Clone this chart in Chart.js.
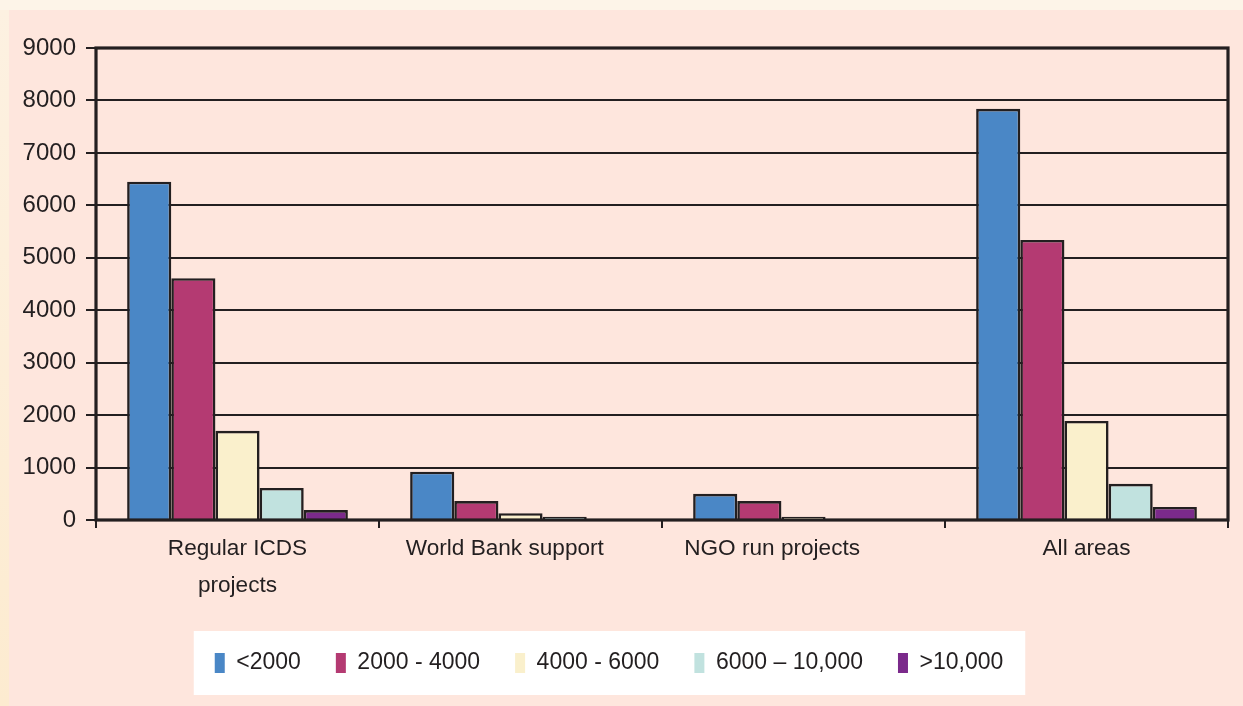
<!DOCTYPE html>
<html>
<head>
<meta charset="utf-8">
<title>Population size distribution by project type</title>
<script src="https://cdn.jsdelivr.net/npm/chart.js@4.4.1/dist/chart.umd.min.js"></script>
<style>
  html, body { margin: 0; padding: 0; }
  body {
    width: 1243px; height: 706px; overflow: hidden; position: relative;
    background: #fdf4e8;
  }
  #strip {
    position: absolute; left: 0; top: 10px; width: 9px; height: 696px;
    background: linear-gradient(#fdf1e1, #fdebd0);
  }
  #panel {
    position: absolute; left: 9px; top: 10px; width: 1234px; height: 696px;
    background: #fee6dd;
  }
  #wrap { position: absolute; left: 0; top: 0; width: 1243px; height: 706px; }
</style>
</head>
<body>
<div id="strip"></div>
<div id="panel"></div>
<div id="wrap"><canvas id="chart" width="1243" height="706"></canvas></div>
<script>
// Project categories along the x axis (trailing spaces keep the original label placement)
const categories = [["Regular ICDS", "projects"], "World Bank support     ", "NGO run projects          ", "All areas"];

// Population size groups (one series each)
const seriesNames = ["<2000", "2000 - 4000", "4000 - 6000", "6000 \u2013 10,000", ">10,000"];

// Values per category for each size group
const under2000   = [6450, 920, 500, 7840];
const from2000    = [4610, 360, 360, 5340];
const from4000    = [1700, 130, 60, 1890];
const from6000    = [610, 60, 0, 690];
const over10000   = [190, 0, 0, 250];

// Y axis tick values
const yTicks = [0, 1000, 2000, 3000, 4000, 5000, 6000, 7000, 8000, 9000];

const seriesValues = [under2000, from2000, from4000, from6000, over10000];
const seriesColors = ["#4a87c6", "#b43a72", "#faf0cc", "#c1e2df", "#7b2a8b"];

const ink = "#231f20";
const fontFamily = "'Liberation Sans', Arial, Helvetica, sans-serif";

// White card behind the legend, and a heavy frame round the plot area
const decorations = {
  id: "decorations",
  afterLayout(chart) {
    const lg = chart.legend;
    const dx = -5;
    const dy = 616.5 - lg.top;
    lg.left += dx; lg.right += dx;
    lg.top += dy; lg.bottom += dy;
  },
  beforeDraw(chart) {
    const lg = chart.legend;
    const boxes = lg.legendHitBoxes || [];
    if (!boxes.length) return;
    const first = boxes[0], last = boxes[boxes.length - 1];
    const cy = first.top + first.height / 2;
    const ctx = chart.ctx;
    ctx.save();
    ctx.fillStyle = "#ffffff";
    const x0 = first.left - 21, x1 = last.left + last.width + 22;
    ctx.fillRect(x0, cy - 32, x1 - x0, 64);
    ctx.restore();
  },
  afterDatasetsDraw(chart) {
    const a = chart.chartArea;
    const ctx = chart.ctx;
    ctx.save();
    ctx.strokeStyle = ink;
    ctx.lineWidth = 3.2;
    ctx.strokeRect(a.left, a.top, a.right - a.left, a.bottom - a.top);
    ctx.restore();
  }
};

new Chart(document.getElementById("chart"), {
  type: "bar",
  data: {
    labels: categories,
    datasets: seriesNames.map((name, i) => ({
      label: name,
      data: seriesValues[i],
      backgroundColor: seriesColors[i],
      borderColor: ink,
      borderWidth: 2.6,
      categoryPercentage: 0.78,
      barPercentage: 1.0
    }))
  },
  options: {
    responsive: false,
    animation: false,
    layout: { padding: { top: 48, right: 15, bottom: 10, left: 0 } },
    plugins: {
      tooltip: { enabled: false },
      legend: {
        position: "bottom",
        maxHeight: 60,
        labels: {
          boxWidth: 10,
          boxHeight: 20,
          padding: 35,
          color: ink,
          font: { family: fontFamily, size: 23 },
          generateLabels(chart) {
            return chart.data.datasets.map((ds, i) => ({
              text: ds.label,
              fillStyle: ds.backgroundColor,
              strokeStyle: ds.backgroundColor,
              lineWidth: 0,
              fontColor: ink,
              datasetIndex: i,
              hidden: false
            }));
          }
        }
      }
    },
    scales: {
      x: {
        offset: true,
        grid: {
          offset: true,
          drawOnChartArea: false,
          drawTicks: true,
          tickLength: 8,
          color: ink,
          lineWidth: 2
        },
        border: { display: false },
        ticks: {
          color: ink,
          padding: 2,
          maxRotation: 0,
          autoSkip: false,
          font: { family: fontFamily, size: 22.6, lineHeight: 1.64 }
        },
        afterFit(scale) { scale.height = 116; }
      },
      y: {
        min: 0,
        max: 9000,
        afterBuildTicks(scale) { scale.ticks = yTicks.map(v => ({ value: v })); },
        grid: {
          color: ink,
          lineWidth: 2,
          tickLength: 10
        },
        border: { display: false },
        ticks: {
          color: ink,
          padding: 10,
          font: { family: fontFamily, size: 24 },
          callback: v => String(v)
        },
        afterFit(scale) { scale.width = 96; }
      }
    }
  },
  plugins: [decorations]
});
</script>
</body>
</html>
